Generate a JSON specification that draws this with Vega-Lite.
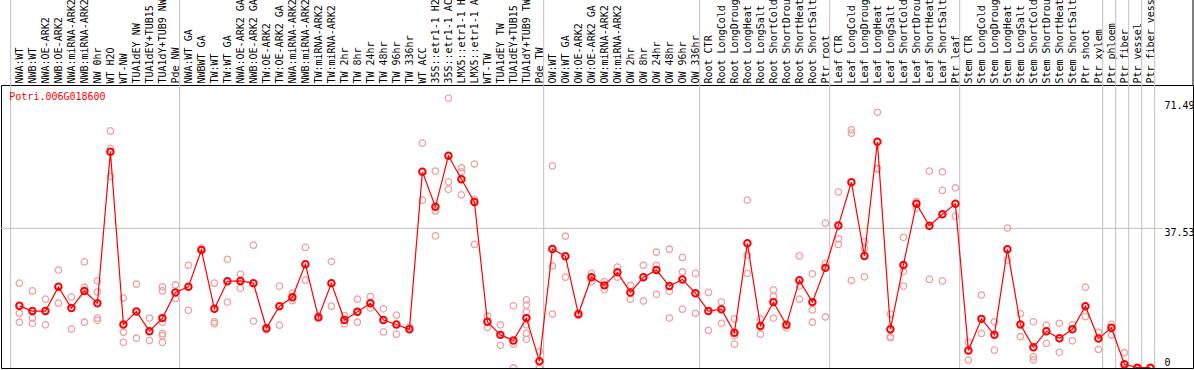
{
 "$schema": "https://vega.github.io/schema/vega-lite/v6.json",
 "width": 1192,
 "height": 283,
 "autosize": {"type": "none"},
 "padding": {"left": 1, "top": 85, "right": 1, "bottom": 2},
 "background": "white",
 "config": {"view": {"stroke": "black", "strokeWidth": 1}, "font": "DejaVu Sans Mono",
  "axis": {"labelFont": "DejaVu Sans Mono", "labelFontSize": 10, "labelColor": "black", "ticks": false, "domain": false, "grid": false, "labelOverlap": false, "labelBound": false, "labelFlush": false}},
 "datasets": {
  "seps": [{"p": -0.67}, {"p": 12.33}, {"p": 40.33}, {"p": 52.33}, {"p": 62.33}, {"p": 72.33}, {"p": 83.33}, {"p": 84.33}, {"p": 85.33}, {"p": 86.33}, {"p": 87.33}],
  "means": [
   {"p":0,"v":16.7},{"p":1,"v":15.3},{"p":2,"v":15.3},{"p":3,"v":21.8},{"p":4,"v":16.1},{"p":5,"v":20.7},{"p":6,"v":17.4},{"p":7,"v":58.1},{"p":8,"v":11.7},{"p":9,"v":15.2},
   {"p":10,"v":9.9},{"p":11,"v":13.4},{"p":12,"v":20.3},{"p":13,"v":21.8},{"p":14,"v":31.7},{"p":15,"v":15.9},{"p":16,"v":23.3},{"p":17,"v":23.4},{"p":18,"v":22.8},{"p":19,"v":10.7},
   {"p":20,"v":16.6},{"p":21,"v":19.0},{"p":22,"v":27.9},{"p":23,"v":13.6},{"p":24,"v":22.8},{"p":25,"v":12.9},{"p":26,"v":15.1},{"p":27,"v":17.4},{"p":28,"v":12.9},{"p":29,"v":11.7},
   {"p":30,"v":10.4},{"p":31,"v":52.7},{"p":32,"v":43.3},{"p":33,"v":57.0},{"p":34,"v":50.7},{"p":35,"v":44.6},{"p":36,"v":12.4},{"p":37,"v":8.9},{"p":38,"v":7.4},{"p":39,"v":13.4},
   {"p":40,"v":1.8},{"p":41,"v":32.0},{"p":42,"v":30.0},{"p":43,"v":14.5},{"p":44,"v":24.4},{"p":45,"v":22.2},{"p":46,"v":25.7},{"p":47,"v":20.3},{"p":48,"v":24.4},{"p":49,"v":26.3},
   {"p":50,"v":22.0},{"p":51,"v":23.8},{"p":52,"v":20.1},{"p":53,"v":15.3},{"p":54,"v":15.8},{"p":55,"v":9.5},{"p":56,"v":33.5},{"p":57,"v":11.3},{"p":58,"v":17.7},{"p":59,"v":11.6},
   {"p":60,"v":23.6},{"p":61,"v":17.7},{"p":62,"v":26.9},{"p":63,"v":38.3},{"p":64,"v":49.9},{"p":65,"v":30.1},{"p":66,"v":60.8},{"p":67,"v":10.4},{"p":68,"v":27.7},{"p":69,"v":44.1},
   {"p":70,"v":38.2},{"p":71,"v":41.3},{"p":72,"v":44.1},{"p":73,"v":4.7},{"p":74,"v":13.2},{"p":75,"v":8.9},{"p":76,"v":31.9},{"p":77,"v":11.7},{"p":78,"v":5.6},{"p":79,"v":9.9},
   {"p":80,"v":8.0},{"p":81,"v":10.4},{"p":82,"v":16.6},{"p":83,"v":7.9},{"p":84,"v":10.8},{"p":85,"v":1.0},{"p":86,"v":0.1},{"p":87,"v":0.1}
  ],
  "reps": [
   {"p":0,"v":22.8},{"p":0,"v":14.7},{"p":0,"v":12.3},
   {"p":1,"v":20.7},{"p":1,"v":13.4},{"p":1,"v":12.0},
   {"p":2,"v":18.5},{"p":2,"v":11.6},
   {"p":3,"v":26.3},{"p":3,"v":17.4},
   {"p":4,"v":19.1},{"p":4,"v":10.5},
   {"p":5,"v":28.5},{"p":5,"v":21.7},{"p":5,"v":12.3},
   {"p":6,"v":23.4},{"p":6,"v":20.4},{"p":6,"v":13.4},{"p":6,"v":12.8},
   {"p":7,"v":63.7},{"p":7,"v":59.0},{"p":7,"v":51.5},
   {"p":8,"v":18.8},{"p":8,"v":9.6},{"p":8,"v":6.9},
   {"p":9,"v":22.5},{"p":9,"v":8.0},
   {"p":10,"v":13.4},{"p":10,"v":7.4},
   {"p":11,"v":21.8},{"p":11,"v":20.7},{"p":11,"v":12.3},{"p":11,"v":9.3},{"p":11,"v":8.7},{"p":11,"v":6.9},
   {"p":12,"v":22.3},{"p":12,"v":18.7},
   {"p":13,"v":27.6},{"p":13,"v":15.5},
   {"p":14,"v":32.2},
   {"p":15,"v":22.8},{"p":15,"v":12.4},{"p":15,"v":11.9},
   {"p":16,"v":29.2},{"p":16,"v":17.7},
   {"p":17,"v":25.2},{"p":17,"v":21.4},
   {"p":18,"v":33.0},{"p":18,"v":12.6},
   {"p":19,"v":10.2},
   {"p":20,"v":22.0},{"p":20,"v":11.5},
   {"p":21,"v":20.1},{"p":21,"v":18.1},
   {"p":22,"v":32.4},{"p":22,"v":23.6},
   {"p":23,"v":14.0},
   {"p":24,"v":28.6},{"p":24,"v":16.6},
   {"p":25,"v":14.1},{"p":25,"v":11.9},
   {"p":26,"v":18.5},{"p":26,"v":12.3},
   {"p":27,"v":19.2},{"p":27,"v":16.1},
   {"p":28,"v":15.9},{"p":28,"v":9.7},
   {"p":29,"v":14.2},{"p":29,"v":9.1},
   {"p":30,"v":11.0},
   {"p":31,"v":60.4},{"p":31,"v":45.1},
   {"p":32,"v":52.9},{"p":32,"v":42.2},{"p":32,"v":35.5},
   {"p":33,"v":72.5},{"p":33,"v":50.0},{"p":33,"v":48.0},
   {"p":34,"v":53.8},{"p":34,"v":52.7},{"p":34,"v":46.5},
   {"p":35,"v":54.8},{"p":35,"v":45.3},{"p":35,"v":33.2},
   {"p":36,"v":13.9},{"p":36,"v":10.9},
   {"p":37,"v":11.6},{"p":37,"v":6.1},
   {"p":38,"v":16.7},{"p":38,"v":6.4},{"p":38,"v":0},
   {"p":39,"v":18.3},{"p":39,"v":16.9},{"p":39,"v":15.1},{"p":39,"v":11.6},{"p":39,"v":9.3},{"p":39,"v":7.7},
   {"p":40,"v":4.4},{"p":40,"v":0},
   {"p":41,"v":54.3},{"p":41,"v":27.4},{"p":41,"v":14.5},
   {"p":42,"v":35.4},{"p":42,"v":24.4},
   {"p":43,"v":14.1},
   {"p":44,"v":25.4},{"p":44,"v":23.2},
   {"p":45,"v":23.2},{"p":45,"v":21.0},
   {"p":46,"v":27.1},{"p":46,"v":24.4},
   {"p":47,"v":22.2},{"p":47,"v":18.5},
   {"p":48,"v":27.6},{"p":48,"v":18.0},
   {"p":49,"v":31.1},{"p":49,"v":27.6},{"p":49,"v":19.8},
   {"p":50,"v":31.9},{"p":50,"v":20.6},{"p":50,"v":13.4},
   {"p":51,"v":29.7},{"p":51,"v":25.8},{"p":51,"v":15.8},
   {"p":52,"v":25.4},{"p":52,"v":14.7},
   {"p":53,"v":20.3},{"p":53,"v":10.1},
   {"p":54,"v":17.7},{"p":54,"v":12.0},
   {"p":55,"v":13.2},{"p":55,"v":8.7},{"p":55,"v":6.4},
   {"p":56,"v":45.1},{"p":56,"v":30.3},{"p":56,"v":25.4},
   {"p":57,"v":13.1},{"p":57,"v":9.1},
   {"p":58,"v":21.0},{"p":58,"v":19.2},{"p":58,"v":13.4},
   {"p":59,"v":10.8},
   {"p":60,"v":30.1},{"p":60,"v":22.0},{"p":60,"v":18.5},
   {"p":61,"v":25.3},{"p":61,"v":15.6},{"p":61,"v":12.3},
   {"p":62,"v":38.9},{"p":62,"v":28.1},{"p":62,"v":13.7},
   {"p":63,"v":47.3},{"p":63,"v":34.7},{"p":63,"v":33.2},
   {"p":64,"v":64.0},{"p":64,"v":63.1},{"p":64,"v":23.5},
   {"p":65,"v":33.9},{"p":65,"v":32.2},{"p":65,"v":24.5},
   {"p":66,"v":68.7},{"p":66,"v":53.7},{"p":66,"v":53.4},
   {"p":67,"v":14.5},{"p":67,"v":8.4},{"p":67,"v":8.1},
   {"p":68,"v":35.1},{"p":68,"v":25.9},{"p":68,"v":22.0},
   {"p":69,"v":44.7},{"p":69,"v":42.9},
   {"p":70,"v":52.9},{"p":70,"v":23.8},
   {"p":71,"v":52.7},{"p":71,"v":47.7},{"p":71,"v":23.4},
   {"p":72,"v":48.4},{"p":72,"v":40.8},
   {"p":73,"v":6.9},{"p":73,"v":2.1},
   {"p":74,"v":19.6},{"p":74,"v":9.3},
   {"p":75,"v":12.4},{"p":75,"v":4.8},
   {"p":76,"v":37.6},{"p":76,"v":29.0},
   {"p":77,"v":14.6},{"p":77,"v":8.4},
   {"p":78,"v":12.4},{"p":78,"v":3.0},{"p":78,"v":2.2},
   {"p":79,"v":11.5},{"p":79,"v":6.6},
   {"p":80,"v":12.0},{"p":80,"v":4.2},
   {"p":81,"v":11.6},{"p":81,"v":7.3},
   {"p":82,"v":21.7},{"p":82,"v":13.8},
   {"p":83,"v":9.6},{"p":83,"v":5.0},
   {"p":84,"v":11.7},{"p":84,"v":8.8},
   {"p":85,"v":4.1},{"p":85,"v":0},
   {"p":86,"v":0},{"p":86,"v":0},
   {"p":87,"v":0},{"p":87,"v":0}
  ]
 },
 "layer": [
  {
   "data": {"name": "seps"},
   "mark": {"type": "rule", "color": "#c0c0c0", "strokeWidth": 1},
   "encoding": {
    "x": {"field": "p", "type": "quantitative", "scale": {"domain": [-1.415, 90.277], "nice": false, "zero": false}, "axis": {"orient": "top", "title": null}},
    "y": {"datum": 0, "type": "quantitative", "scale": {"domain": [0, 76.03], "nice": false, "zero": false}, "axis": {"orient": "right", "title": null}},
    "y2": {"datum": 98.87}
   }
  },
  {
   "data": {"values": [{"g": 37.53}]},
   "mark": {"type": "rule", "color": "#c0c0c0", "strokeWidth": 1},
   "encoding": {
    "y": {"field": "g", "type": "quantitative", "scale": {"domain": [0, 76.03], "nice": false, "zero": false}, "axis": {"orient": "right", "title": null}},
    "x": {"datum": -1.415, "type": "quantitative", "scale": {"domain": [-1.415, 90.277], "nice": false, "zero": false}, "axis": {"orient": "top", "title": null}},
    "x2": {"datum": 87.97}
   }
  },
  {
   "data": {"values": [{"e": 90.277}]},
   "mark": {"type": "rule", "color": "black", "strokeWidth": 1},
   "encoding": {
    "x": {"field": "e", "type": "quantitative", "scale": {"domain": [-1.415, 90.277], "nice": false, "zero": false}, "axis": {"orient": "top", "title": null}},
    "y": {"datum": 76.03, "type": "quantitative", "scale": {"domain": [0, 76.03], "nice": false, "zero": false}, "axis": {"orient": "right", "title": null}},
    "y2": {"datum": 98.87}
   }
  },
  {
   "data": {"name": "reps"},
   "mark": {"type": "point", "shape": "circle", "filled": false, "size": 42, "strokeWidth": 1.3, "color": "#f0a0a0", "opacity": 1, "clip": true},
   "encoding": {
    "x": {"field": "p", "type": "quantitative", "scale": {"domain": [-1.415, 90.277], "nice": false, "zero": false},
     "axis": {"orient": "top", "title": null, "tickCount": 200, "values": [0,1,2,3,4,5,6,7,8,9,10,11,12,13,14,15,16,17,18,19,20,21,22,23,24,25,26,27,28,29,30,31,32,33,34,35,36,37,38,39,40,41,42,43,44,45,46,47,48,49,50,51,52,53,54,55,56,57,58,59,60,61,62,63,64,65,66,67,68,69,70,71,72,73,74,75,76,77,78,79,80,81,82,83,84,85,86,87],
      "labelExpr": "['NWA:WT','NWB:WT','NWA:OE-ARK2','NWB:OE-ARK2','NWA:miRNA-ARK2','NWB:miRNA-ARK2','NW 0hr','WT H2O','WT-NW','TUA1dEY NW','TUA1dEY+TUB15 NW','TUA1dY+TUB9 NW','Pde NW','NWA:WT GA','NWBWT GA','TW:WT','TW:WT GA','NWA:OE-ARK2 GA','NWB:OE-ARK2 GA','TW:OE-ARK2','TW:OE-ARK2 GA','NWA:miRNA-ARK2','NWB:miRNA-ARK2','TW:miRNA-ARK2','TW:miRNA-ARK2','TW 2hr','TW 8hr','TW 24hr','TW 48hr','TW 96hr','TW 336hr','WT ACC','35S::etr1-1 H2O','35S::etr1-1 ACC','LMX5::etr1-1 H2O','LMX5::etr1-1 ACC','WT-TW','TUA1dEY TW','TUA1dEY+TUB15 TW','TUA1dY+TUB9 TW','Pde TW','OW:WT','OW:WT GA','OW:OE-ARK2','OW:OE-ARK2 GA','OW:miRNA-ARK2','OW:miRNA-ARK2','OW 2hr','OW 8hr','OW 24hr','OW 48hr','OW 96hr','OW 336hr','Root CTR','Root LongCold','Root LongDrought','Root LongHeat','Root LongSalt','Root ShortCold','Root ShortDrought','Root ShortHeat','Root ShortSalt','Ptr root','Leaf CTR','Leaf LongCold','Leaf LongDrought','Leaf LongHeat','Leaf LongSalt','Leaf ShortCold','Leaf ShortDrought','Leaf ShortHeat','Leaf ShortSalt','Ptr leaf','Stem CTR','Stem LongCold','Stem LongDrought','Stem LongHeat','Stem LongSalt','Stem ShortCold','Stem ShortDrought','Stem ShortHeat','Stem ShortSalt','Ptr shoot','Ptr xylem','Ptr phloem','Ptr fiber','Ptr vessel','Ptr fiber vessel'][datum.value]",
      "labelAngle": 270, "labelAlign": "left", "labelBaseline": "middle", "labelPadding": 2, "labelLimit": 0,
      "labelOverlap": false, "labelBound": false, "labelFlush": false}},
    "y": {"field": "v", "type": "quantitative", "scale": {"domain": [0, 76.03], "nice": false, "zero": false},
     "axis": {"orient": "right", "title": null, "values": [0, 37.53, 71.49], "format": ".2~f",
      "labelAlign": "left", "labelBaseline": "middle", "labelPadding": 0, "offset": -29,
      "labelOverlap": false, "labelBound": false, "labelFlush": false,
      "labelOffset": {"condition": {"test": "datum.value == 0", "value": -6}, "value": 4}}}
   }
  },
  {
   "data": {"name": "means"},
   "mark": {"type": "line", "color": "#ff0000", "strokeWidth": 1.2, "clip": true},
   "encoding": {
    "x": {"field": "p", "type": "quantitative", "scale": {"domain": [-1.415, 90.277], "nice": false, "zero": false}, "axis": {"orient": "top", "title": null}},
    "y": {"field": "v", "type": "quantitative", "scale": {"domain": [0, 76.03], "nice": false, "zero": false}, "axis": {"orient": "right", "title": null}}
   }
  },
  {
   "data": {"name": "means"},
   "mark": {"type": "point", "shape": "circle", "filled": false, "size": 42, "strokeWidth": 2, "color": "#ff0000", "opacity": 1, "clip": true},
   "encoding": {
    "x": {"field": "p", "type": "quantitative", "scale": {"domain": [-1.415, 90.277], "nice": false, "zero": false}, "axis": {"orient": "top", "title": null}},
    "y": {"field": "v", "type": "quantitative", "scale": {"domain": [0, 76.03], "nice": false, "zero": false}, "axis": {"orient": "right", "title": null}}
   }
  },
  {
   "data": {"values": [{"t": "Potri.006G018600", "tx": -0.777, "ty": 72.94}]},
   "mark": {"type": "text", "color": "#ff0000", "font": "DejaVu Sans Mono", "fontSize": 10, "align": "left", "baseline": "middle"},
   "encoding": {
    "x": {"field": "tx", "type": "quantitative", "scale": {"domain": [-1.415, 90.277], "nice": false, "zero": false}, "axis": {"orient": "top", "title": null}},
    "y": {"field": "ty", "type": "quantitative", "scale": {"domain": [0, 76.03], "nice": false, "zero": false}, "axis": {"orient": "right", "title": null}},
    "text": {"field": "t"}
   }
  }
 ]
}
